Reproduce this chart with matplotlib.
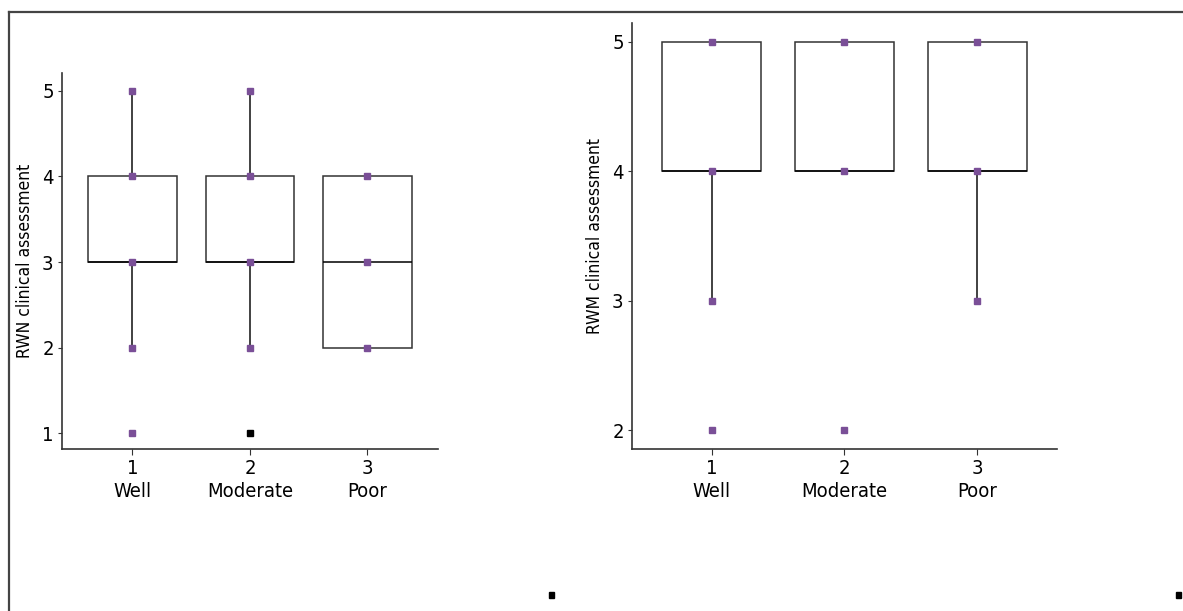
import matplotlib
matplotlib.use("Agg")
import matplotlib.pyplot as plt
from matplotlib.patches import Rectangle
from matplotlib.lines import Line2D
from matplotlib import font_manager as fm

plt.rcParams['font.family'] = ['DejaVu Sans']
plt.rcParams['font.stretch'] = 'condensed'

# ---- data ----
groups = [1, 2, 3]
group_names = ["Well", "Moderate", "Poor"]
tick_labels = [f"{g}\n{n}" for g, n in zip(groups, group_names)]

# Left panel (RWN)
rwn_q1 = [3, 3, 2]
rwn_med = [3, 3, 3]
rwn_q3 = [4, 4, 4]
rwn_whislo = [2, 2, 2]
rwn_whishi = [5, 5, 4]
rwn_points = [[1, 2, 3, 4, 5], [1, 2, 3, 4, 5], [2, 3, 4]]
rwn_point_colors = [["p"] * 5, ["k", "p", "p", "p", "p"], ["p"] * 3]

# Right panel (RWM)
rwm_q1 = [4, 4, 4]
rwm_med = [4, 4, 4]
rwm_q3 = [5, 5, 5]
rwm_whislo = [3, 4, 3]
rwm_whishi = [5, 5, 5]
rwm_points = [[2, 3, 4, 5], [2, 4, 5], [3, 4, 5]]
rwm_point_colors = [["p"] * 4, ["p"] * 3, ["p"] * 3]

PURPLE = "#7a4f97"
EDGE = "#333333"

fig = plt.figure(figsize=(11.83, 6.11), dpi=100)

def panel(rect, q1, med, q3, lo, hi, pts, pcols, ylabel, yticks, ylim):
    ax = fig.add_axes(rect)
    stats = []
    for i in range(len(groups)):
        stats.append(dict(q1=q1[i], med=med[i], q3=q3[i], whislo=lo[i],
                          whishi=hi[i], fliers=[]))
    ax.bxp(stats, positions=groups, widths=0.75, showcaps=False,
           showfliers=False, patch_artist=True,
           boxprops=dict(facecolor="white", edgecolor=EDGE, linewidth=1.1),
           medianprops=dict(color="black", linewidth=1.1),
           whiskerprops=dict(color=EDGE, linewidth=1.3))
    for g, vals, cols in zip(groups, pts, pcols):
        for v, c in zip(vals, cols):
            ax.plot([g], [v], marker="s", markersize=4.2, linestyle="none",
                    color=PURPLE if c == "p" else "black", zorder=5)
    ax.set_xlim(0.4, 3.6)
    ax.set_ylim(*ylim)
    ax.set_yticks(yticks)
    ax.set_xticks(groups)
    ax.set_xticklabels(tick_labels, fontsize=14.5, linespacing=1.3)
    ax.tick_params(axis="y", labelsize=14.5, length=3, width=0.8, color=EDGE, pad=3)
    ax.tick_params(axis="x", length=4, width=0.8, color=EDGE, pad=3)
    for s in ["top", "right"]:
        ax.spines[s].set_visible(False)
    for s in ["left", "bottom"]:
        ax.spines[s].set_color(EDGE)
        ax.spines[s].set_linewidth(1.2)
    ax.set_ylabel(ylabel, fontsize=12.5, labelpad=6)
    return ax

ax1 = panel([0.0524, 0.2651, 0.3178, 0.6154], rwn_q1, rwn_med, rwn_q3,
            rwn_whislo, rwn_whishi, rwn_points, rwn_point_colors,
            "RWN clinical assessment", [1, 2, 3, 4, 5], (0.813, 5.21))
ax2 = panel([0.5342, 0.2651, 0.3593, 0.6973], rwm_q1, rwm_med, rwm_q3,
            rwm_whislo, rwm_whishi, rwm_points, rwm_point_colors,
            "RWM clinical assessment", [2, 3, 4, 5], (1.853, 5.147))

# outer frame (top and left)
fig.add_artist(Line2D([8.5 / 1183, 1.0], [1 - 11.5 / 611, 1 - 11.5 / 611],
                      transform=fig.transFigure, color="#444444", linewidth=1.6))
fig.add_artist(Line2D([8.5 / 1183, 8.5 / 1183], [0, 1 - 11.5 / 611],
                      transform=fig.transFigure, color="#444444", linewidth=1.6))

# small stray square marks at the bottom
for xp in (551, 1178):
    fig.add_artist(Rectangle((xp / 1183 - 2.5 / 1183, 1 - 598 / 611), 5 / 1183, 6 / 611,
                             transform=fig.transFigure, color="black"))

fig.savefig("out.png", dpi=100)
